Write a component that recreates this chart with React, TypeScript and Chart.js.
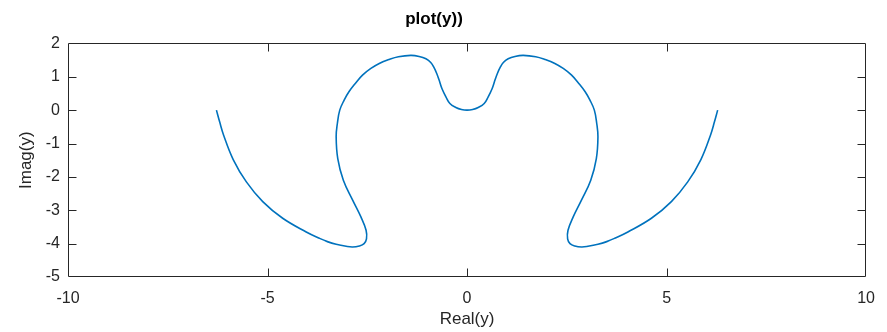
import React, { useEffect, useRef } from "react";
import { Chart, registerables } from "chart.js";

Chart.register(...registerables);

// Curve points, in order (Real, Imag)
const realVals: number[] = [
  -6.28, -6.2, -6.1, -5.86, -5.53, -5.12, -4.62, -4.03, -3.7, -3.5, -3.28, -3.03, -2.87, -2.7, -2.58,
  -2.52, -2.53, -2.66, -2.87, -3.1, -3.24, -3.28, -3.25, -3.19, -3.08, -2.96, -2.8, -2.62, -2.41, -2.2, -1.95,
  -1.72, -1.41, -1.2, -1.03, -0.91, -0.83, -0.76, -0.7, -0.63, -0.53, -0.43, -0.28, -0.14, 0,
  0.14, 0.28, 0.43, 0.53, 0.63, 0.7, 0.76, 0.83, 0.91, 1.03, 1.2, 1.41, 1.72,
  1.95, 2.2, 2.41, 2.62, 2.8, 2.96, 3.08, 3.19, 3.25, 3.28, 3.24, 3.1, 2.87, 2.66, 2.53, 2.52,
  2.58, 2.7, 2.87, 3.03, 3.28, 3.5, 3.7, 4.03, 4.62, 5.12, 5.53, 5.86, 6.1, 6.2, 6.28,
];
const imagVals: number[] = [
  0, -0.35, -0.75, -1.48, -2.15, -2.74, -3.24, -3.65, -3.84, -3.94, -4.02, -4.08, -4.1, -4.07, -4.0,
  -3.86, -3.6, -3.2, -2.69, -2.1, -1.45, -0.8, -0.4, 0, 0.3, 0.55, 0.8, 1.05, 1.25, 1.4, 1.52,
  1.6, 1.64, 1.61, 1.54, 1.43, 1.28, 1.1, 0.9, 0.65, 0.4, 0.2, 0.08, 0.02, 0,
  0.02, 0.08, 0.2, 0.4, 0.65, 0.9, 1.1, 1.28, 1.43, 1.54, 1.61, 1.64, 1.6,
  1.52, 1.4, 1.25, 1.05, 0.8, 0.55, 0.3, 0, -0.4, -0.8, -1.45, -2.1, -2.69, -3.2, -3.6, -3.86,
  -4.0, -4.07, -4.1, -4.08, -4.02, -3.94, -3.84, -3.65, -3.24, -2.74, -2.15, -1.48, -0.75, -0.35, 0,
];

const xTicks: number[] = [-10, -5, 0, 5, 10];
const yTicks: number[] = [-5, -4, -3, -2, -1, 0, 1, 2];

const titleText = "plot(y))";
const xLabel = "Real(y)";
const yLabel = "Imag(y)";

const AXIS_COLOR = "#262626";
const LINE_COLOR = "#0072BD";
const FONT = "'Liberation Sans', Arial, Helvetica, sans-serif";

const boxPlugin = {
  id: "matlabBox",
  afterDraw(chart: any) {
    const { ctx, chartArea } = chart;
    const xs = chart.scales.x;
    const ys = chart.scales.y;
    const l = Math.round(chartArea.left) + 0.5;
    const r = Math.round(chartArea.right) - 0.5;
    const t = Math.round(chartArea.top) + 0.5;
    const b = Math.round(chartArea.bottom) - 0.5;
    const len = 8;
    ctx.save();
    ctx.strokeStyle = AXIS_COLOR;
    ctx.lineWidth = 1;
    ctx.beginPath();
    ctx.rect(l, t, r - l, b - t);
    ctx.stroke();
    ctx.beginPath();
    xTicks.forEach((v) => {
      if (v === xTicks[0] || v === xTicks[xTicks.length - 1]) return;
      const px = Math.round(xs.getPixelForValue(v)) + 0.5;
      ctx.moveTo(px, b);
      ctx.lineTo(px, b - len);
      ctx.moveTo(px, t);
      ctx.lineTo(px, t + len);
    });
    yTicks.forEach((v) => {
      if (v === yTicks[0] || v === yTicks[yTicks.length - 1]) return;
      const py = Math.round(ys.getPixelForValue(v)) + 0.5;
      ctx.moveTo(l, py);
      ctx.lineTo(l + len, py);
      ctx.moveTo(r, py);
      ctx.lineTo(r - len, py);
    });
    ctx.stroke();
    ctx.restore();
  },
};

export default function App() {
  const canvasRef = useRef<HTMLCanvasElement | null>(null);

  useEffect(() => {
    document.body.style.margin = "0";
    const canvas = canvasRef.current;
    if (!canvas) return;
    const points = realVals.map((x, i) => ({ x, y: imagVals[i] }));
    const chart = new Chart(canvas, {
      type: "scatter",
      data: {
        datasets: [
          {
            data: points,
            showLine: true,
            borderColor: LINE_COLOR,
            backgroundColor: LINE_COLOR,
            borderWidth: 1.6,
            pointRadius: 0,
            tension: 0.4,
          },
        ],
      },
      options: {
        animation: false,
        responsive: false,
        maintainAspectRatio: false,
        layout: { padding: { left: 0, right: 19, top: 0, bottom: 0 } },
        plugins: {
          legend: { display: false },
          tooltip: { enabled: false },
          title: {
            display: true,
            text: titleText,
            color: "#000",
            font: { family: FONT, size: 17, weight: "bold" },
            padding: { top: 9, bottom: 14 },
          },
        },
        scales: {
          x: {
            type: "linear",
            min: -10,
            max: 10,
            afterBuildTicks: (scale: any) => {
              scale.ticks = xTicks.map((v) => ({ value: v }));
            },
            afterFit: (scale: any) => {
              scale.height = 55;
            },
            grid: { display: false, drawTicks: false },
            border: { display: false },
            ticks: {
              color: AXIS_COLOR,
              font: { family: FONT, size: 16 },
              padding: 12,
              maxRotation: 0,
            },
            title: {
              display: true,
              text: xLabel,
              color: AXIS_COLOR,
              font: { family: FONT, size: 17 },
              padding: { top: 0, bottom: 2 },
            },
          },
          y: {
            type: "linear",
            min: -5,
            max: 2,
            afterBuildTicks: (scale: any) => {
              scale.ticks = yTicks.map((v) => ({ value: v }));
            },
            afterFit: (scale: any) => {
              scale.width = 68;
            },
            grid: { display: false, drawTicks: false },
            border: { display: false },
            ticks: {
              color: AXIS_COLOR,
              font: { family: FONT, size: 16 },
              padding: 8,
            },
            title: {
              display: true,
              text: yLabel,
              color: AXIS_COLOR,
              font: { family: FONT, size: 17 },
              padding: { top: 16, bottom: 0 },
            },
          },
        },
      },
      plugins: [boxPlugin],
    });
    return () => chart.destroy();
  }, []);

  return <canvas ref={canvasRef} width={887} height={332} style={{ display: "block" }} />;
}
